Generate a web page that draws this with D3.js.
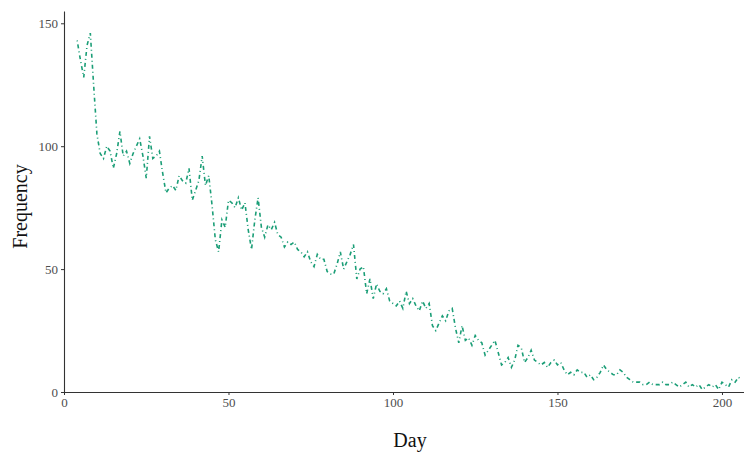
<!DOCTYPE html>
<html>
<head>
<meta charset="utf-8">
<script src="https://cdn.jsdelivr.net/npm/d3@7"></script>
<style>
  body { margin: 0; background: #fff; }
  svg { display: block; }
</style>
</head>
<body>
<div id="chart"></div>
<script>
// days 4..206, daily frequency
const startDay = 4;
const frequency = [
  143, 135, 128, 141, 146, 125, 105,
  97, 95, 100, 98, 91, 97, 106, 96, 98, 93,
  97, 100, 103, 96, 87, 104, 95, 96, 98, 89,
  81, 83, 84, 82, 88, 86, 85, 91, 78, 82,
  86, 96, 84, 88, 76, 62, 57, 70, 67, 78,
  77, 75, 79, 74, 77, 66, 58, 70, 79, 67,
  63, 68, 66, 69, 64, 63, 59, 61, 60, 61,
  58, 57, 55, 57, 53, 51, 56, 54, 54, 49,
  48, 48, 52, 57, 50, 53, 56, 60, 46, 50,
  51, 40, 46, 38, 44, 41, 40, 42, 37, 36,
  35, 37, 34, 41, 36, 38, 35, 33, 37, 34,
  36, 27, 25, 28, 31, 29, 33, 34, 26, 20,
  27, 21, 22, 19, 23, 21, 20, 15, 17, 19,
  21, 16, 11, 12, 14, 10, 13, 19, 18, 12,
  14, 17, 13, 12, 11, 12, 10, 12, 13, 11,
  12, 9, 7, 8, 7, 9, 8, 8, 6, 7,
  5, 6, 8, 11, 9, 8, 7, 7, 9, 8,
  6, 5, 4, 4, 4, 3, 3, 4, 3, 3,
  3, 4, 3, 3, 4, 3, 2, 3, 4, 2,
  3, 2, 3, 1, 2, 3, 2, 3, 1, 4,
  3, 2, 5, 4, 6, 5
];
const days = frequency.map((v, i) => startDay + i);
const xTicks = [0, 50, 100, 150, 200];
const yTicks = [0, 50, 100, 150];

const width = 744;
const height = 453;
const margin = { left: 64, right: 0, top: 11, bottom: 61 };

const svg = d3.select("#chart").append("svg")
  .attr("width", width)
  .attr("height", height);

const x = d3.scaleLinear()
  .domain([0, 207])
  .range([margin.left, width - margin.right + 1]);

const y = d3.scaleLinear()
  .domain([0, 155])
  .range([height - margin.bottom, margin.top]);

const font = "'Liberation Serif', 'Times New Roman', serif";

// line
const line = d3.line()
  .x((d, i) => x(days[i]))
  .y(d => y(d));

svg.append("path")
  .datum(frequency)
  .attr("d", line)
  .attr("fill", "none")
  .attr("stroke", "#1b9e77")
  .attr("stroke-width", 1.6)
  .attr("stroke-dasharray", "1,3,4,3");

// axes
const xAxis = svg.append("g")
  .attr("transform", `translate(0,${height - margin.bottom})`)
  .call(d3.axisBottom(x).tickValues(xTicks).tickSize(3).tickPadding(3).tickSizeOuter(0));

const yAxis = svg.append("g")
  .attr("transform", `translate(${margin.left},0)`)
  .call(d3.axisLeft(y).tickValues(yTicks).tickSize(3).tickPadding(3).tickSizeOuter(0));

[xAxis, yAxis].forEach(a => {
  a.select(".domain").attr("stroke", "#333").attr("stroke-width", 1.1);
  a.selectAll(".tick line").attr("stroke", "#333");
  a.selectAll(".tick text")
    .attr("fill", "#4d4d4d")
    .style("font-family", font)
    .style("font-size", "13px");
});

// axis titles
svg.append("text")
  .attr("x", (margin.left + width) / 2 + 6)
  .attr("y", 447)
  .attr("text-anchor", "middle")
  .style("font-family", font)
  .style("font-size", "20px")
  .attr("fill", "#111")
  .text("Day");

svg.append("text")
  .attr("transform", `translate(27,${(height - margin.bottom + margin.top) / 2 + 5}) rotate(-90)`)
  .attr("text-anchor", "middle")
  .style("font-family", font)
  .style("font-size", "20px")
  .attr("fill", "#111")
  .text("Frequency");
</script>
</body>
</html>
